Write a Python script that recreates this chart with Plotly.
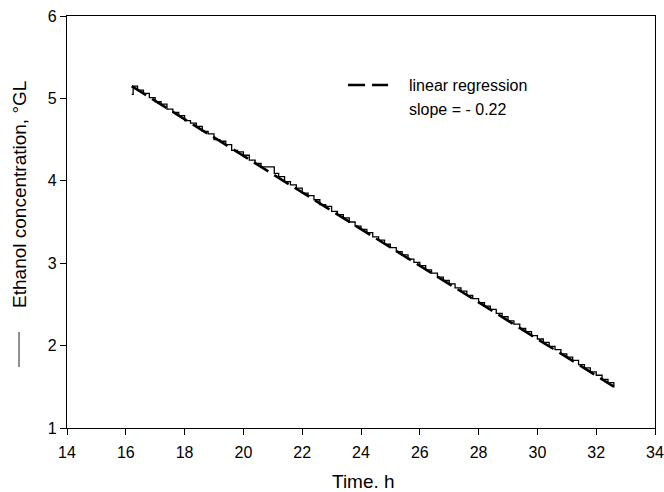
import plotly.graph_objects as go
import numpy as np

# Measured ethanol concentration (°GL) vs time (h)
time_h = [16.20, 16.25, 16.4, 16.6, 16.8, 17.0, 17.2, 17.4, 17.6, 17.8, 18.0,
          18.2, 18.4, 18.6, 18.8, 19.0, 19.2, 19.4, 19.6, 19.8, 20.0,
          20.2, 20.4, 20.6, 20.8, 21.0, 21.05, 21.2, 21.4, 21.6, 21.8, 22.0,
          22.2, 22.4, 22.6, 22.8, 23.0, 23.2, 23.4, 23.6, 23.8, 24.0,
          24.2, 24.4, 24.6, 24.8, 25.0, 25.2, 25.4, 25.6, 25.8, 26.0,
          26.2, 26.4, 26.6, 26.8, 27.0, 27.2, 27.4, 27.6, 27.8, 28.0,
          28.2, 28.4, 28.6, 28.8, 29.0, 29.2, 29.4, 29.6, 29.8, 30.0,
          30.2, 30.4, 30.6, 30.8, 31.0, 31.2, 31.4, 31.6, 31.8, 32.0,
          32.2, 32.4, 32.6]
ethanol = [5.05, 5.15, 5.10, 5.06, 5.01, 4.96, 4.93, 4.87, 4.83, 4.79, 4.73,
           4.70, 4.66, 4.60, 4.57, 4.50, 4.48, 4.44, 4.37, 4.35, 4.31,
           4.25, 4.21, 4.17, 4.17, 4.17, 4.09, 4.05, 3.99, 3.95, 3.91, 3.85,
           3.82, 3.77, 3.71, 3.69, 3.63, 3.59, 3.55, 3.50, 3.45, 3.41,
           3.37, 3.32, 3.28, 3.23, 3.19, 3.14, 3.10, 3.05, 3.01, 2.97,
           2.92, 2.88, 2.83, 2.79, 2.75, 2.70, 2.66, 2.61, 2.57, 2.52,
           2.48, 2.44, 2.39, 2.35, 2.30, 2.26, 2.21, 2.17, 2.12, 2.08,
           2.04, 1.99, 1.95, 1.90, 1.86, 1.82, 1.77, 1.73, 1.68, 1.64,
           1.59, 1.55, 1.49]

x_ticks = [14, 16, 18, 20, 22, 24, 26, 28, 30, 32, 34]
y_ticks = [1, 2, 3, 4, 5, 6]

# linear regression through measured data
slope, intercept = np.polyfit(time_h[1:], ethanol[1:], 1)
reg_x = [time_h[0], time_h[-1]]
reg_y = [intercept + slope * t for t in reg_x]

FONT = "Liberation Sans, Arial, Helvetica, sans-serif"

fig = go.Figure()
fig.add_trace(go.Scatter(x=time_h, y=ethanol, mode="lines", line_shape="hv",
                         line=dict(color="black", width=1.3), showlegend=False))
fig.add_trace(go.Scatter(x=reg_x, y=reg_y, mode="lines",
                         line=dict(color="black", width=2.6, dash="17px,7px"),
                         showlegend=False))

# legend (regression) drawn in paper coords
fig.add_shape(type="line", xref="paper", yref="paper",
              x0=0.478, x1=0.546, y0=0.8325, y1=0.8325,
              line=dict(color="black", width=2.6, dash="17px,7px"))
fig.add_annotation(xref="paper", yref="paper", x=0.578, y=0.8325,
                   text="linear regression", showarrow=False,
                   xanchor="left", yanchor="middle",
                   font=dict(size=16, color="black", family=FONT))
fig.add_annotation(xref="paper", yref="paper", x=0.578, y=0.772,
                   text="slope = - 0.22", showarrow=False,
                   xanchor="left", yanchor="middle",
                   font=dict(size=16, color="black", family=FONT))

# y-axis title with its line symbol
fig.add_annotation(xref="paper", yref="paper", x=-0.080, y=0.568,
                   text="Ethanol concentration, °GL", textangle=-90,
                   showarrow=False, xanchor="center", yanchor="middle",
                   font=dict(size=19, color="black", family=FONT))
fig.add_shape(type="line", xref="paper", yref="paper",
              x0=-0.0816, x1=-0.0816, y0=0.233, y1=0.148,
              line=dict(color="#444444", width=1.2))

# x-axis title
fig.add_annotation(xref="paper", yref="paper", x=0.505, y=-0.130,
                   text="Time. h", showarrow=False,
                   xanchor="center", yanchor="middle",
                   font=dict(size=19, color="black", family=FONT))

fig.update_layout(
    width=664, height=492,
    margin=dict(l=67, r=9, t=16, b=64, autoexpand=False),
    paper_bgcolor="white", plot_bgcolor="white",
    font=dict(family=FONT, size=16, color="black"),
)
fig.update_xaxes(range=[14, 34], tickvals=x_ticks, ticks="outside", ticklen=6,
                 tickcolor="black", showline=True, linecolor="black", linewidth=1.2,
                 mirror=True, showgrid=False, zeroline=False, automargin=False,
                 tickfont=dict(size=16), ticklabelstandoff=4)
fig.update_yaxes(range=[1, 6], tickvals=y_ticks, ticks="outside", ticklen=6,
                 tickcolor="black", showline=True, linecolor="black", linewidth=1.2,
                 mirror=True, showgrid=False, zeroline=False, automargin=False,
                 tickfont=dict(size=16))

fig.write_html(
    "out.html",
    config={"displayModeBar": False},
    post_script="document.body.style.margin='0';document.body.style.overflow='hidden';"
                "document.documentElement.style.overflow='hidden';",
)
